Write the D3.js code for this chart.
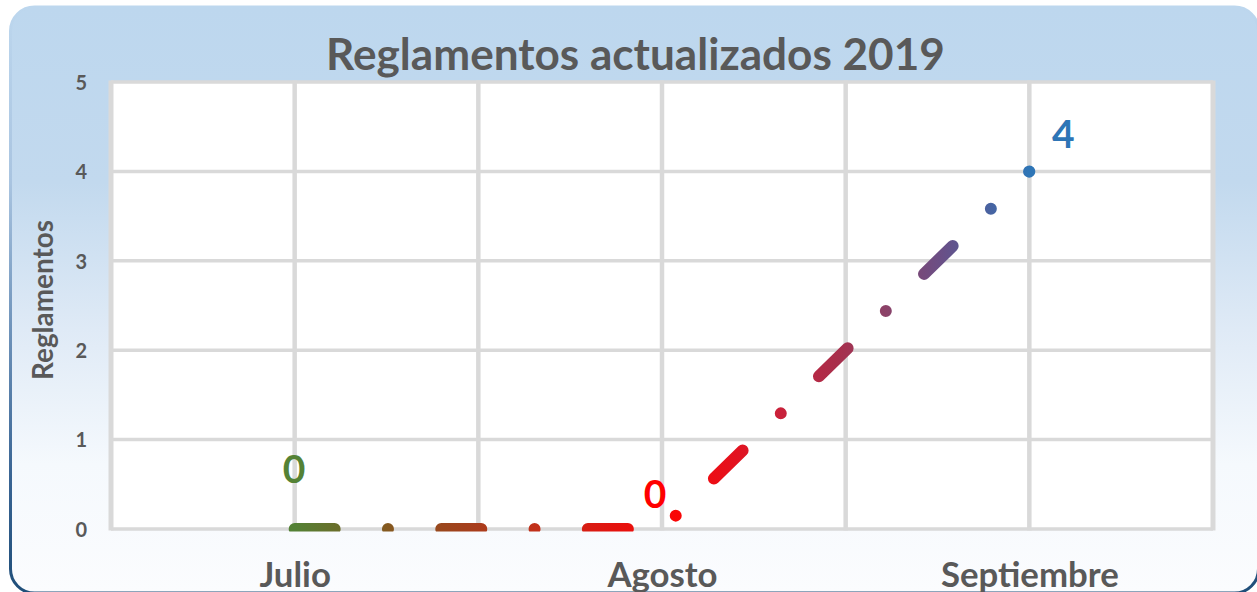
<!DOCTYPE html>
<html><head><meta charset="utf-8">
<script src="https://cdn.jsdelivr.net/npm/d3@7"></script>
<style>html,body{margin:0;padding:0;background:#fff;overflow:hidden;} svg{display:block;}</style>
</head><body>
<svg id="chart" width="1257" height="592"></svg>
<script>
// ---- data ----
const chartTitle = "Reglamentos actualizados 2019";
const yAxisTitle = "Reglamentos";
const categories = ["Julio", "Agosto", "Septiembre"];
const values = [0, 0, 4];
const dataLabels = ["0", "0", "4"];
const yTicks = [0, 1, 2, 3, 4, 5];

// ---- layout ----
const W = 1257, H = 592;
const plot = {left: 111, right: 1213, top: 82, bottom: 529};
const FONT = "Lato, 'Open Sans', sans-serif";
const TXT = "#595959";

const svg = d3.select("#chart");
const defs = svg.append("defs");

// x: linear over half-category slots, categories at odd slots
const nSlots = categories.length * 2;
const x = d3.scaleLinear().domain([0, nSlots]).range([plot.left, plot.right]);
const catX = i => x(2 * i + 1);
const y = d3.scaleLinear().domain([0, d3.max(yTicks)]).range([plot.bottom, plot.top]);

// ---- background ----
const bgGrad = defs.append("linearGradient").attr("id", "bgGrad")
  .attr("x1", 0).attr("y1", 0).attr("x2", 0).attr("y2", 1);
[[0, "#bdd7ee"], [0.3, "#c2d9ee"], [0.55, "#dfeaf6"], [0.78, "#f5f9fd"], [1, "#fbfcfe"]]
  .forEach(([o, c]) => bgGrad.append("stop").attr("offset", o).attr("stop-color", c));
const bdGrad = defs.append("linearGradient").attr("id", "bdGrad")
  .attr("x1", 0).attr("y1", 0).attr("x2", 0).attr("y2", 1);
[[0, "#bdd7ee"], [0.3, "#a9c4e0"], [0.55, "#6f93ba"], [0.8, "#3a6594"], [1, "#1f4e79"]]
  .forEach(([o, c]) => bdGrad.append("stop").attr("offset", o).attr("stop-color", c));

svg.append("rect").attr("x", 10.5).attr("y", 7).attr("width", 1248).attr("height", 586)
  .attr("rx", 24).attr("ry", 24)
  .attr("fill", "url(#bgGrad)").attr("stroke", "url(#bdGrad)").attr("stroke-width", 3);

// ---- plot area ----
svg.append("rect").attr("x", plot.left).attr("y", plot.top)
  .attr("width", plot.right - plot.left).attr("height", plot.bottom - plot.top)
  .attr("fill", "#ffffff");

const grid = svg.append("g").attr("stroke", "#d9d9d9").attr("fill", "none");
grid.selectAll("line.h").data(yTicks).join("line").attr("class", "h")
  .attr("x1", plot.left).attr("x2", plot.right)
  .attr("y1", d => y(d)).attr("y2", d => y(d))
  .attr("stroke-width", 3.5);
grid.selectAll("line.v").data(d3.range(0, nSlots + 1)).join("line").attr("class", "v")
  .attr("y1", plot.top - 1.5).attr("y2", plot.bottom + 1.5)
  .attr("x1", d => x(d)).attr("x2", d => x(d))
  .attr("stroke-width", d => (d === 0 || d === nSlots) ? 5 : 4.5);

// ---- line ----
const lg = defs.append("linearGradient").attr("id", "lineGrad")
  .attr("gradientUnits", "userSpaceOnUse")
  .attr("x1", catX(0)).attr("y1", 0).attr("x2", catX(categories.length - 1)).attr("y2", 0);
[[0, "#538135"], [0.13, "#86581f"], [0.23, "#a3401c"], [0.33, "#c2301a"], [0.43, "#e2140f"],
 [0.52, "#fa0606"], [0.6, "#e3121f"], [0.66, "#c9213a"], [0.74, "#a82f4c"], [0.8, "#8d4166"],
 [0.88, "#6a4f86"], [0.94, "#4b619f"], [1, "#2e75b6"]]
  .forEach(([o, c]) => lg.append("stop").attr("offset", o).attr("stop-color", c));

defs.append("clipPath").attr("id", "plotClip").append("rect")
  .attr("x", plot.left).attr("y", plot.top - 10)
  .attr("width", plot.right - plot.left).attr("height", plot.bottom - plot.top + 12.5);

const line = d3.line().x((d, i) => catX(i)).y(d => y(d));
svg.append("path").datum(values)
  .attr("d", line)
  .attr("clip-path", "url(#plotClip)")
  .attr("fill", "none")
  .attr("stroke", "url(#lineGrad)")
  .attr("stroke-width", 12)
  .attr("stroke-linecap", "round")
  .attr("stroke-linejoin", "round")
  .attr("stroke-dasharray", "40 53.3 0 53.3");

// ---- data labels ----
const labelStyle = [
  {dx: -0.5, dy: -46, color: "#548235"},
  {dx: -7, dy: -21, color: "#ff0000"},
  {dx: 34, dy: -23, color: "#2e75b6"}
];
svg.append("g").selectAll("text").data(values).join("text")
  .attr("x", (d, i) => catX(i) + labelStyle[i].dx)
  .attr("y", (d, i) => y(d) + labelStyle[i].dy)
  .attr("text-anchor", "middle")
  .attr("font-family", FONT).attr("font-weight", 700).attr("font-size", 39)
  .attr("fill", (d, i) => labelStyle[i].color)
  .text((d, i) => dataLabels[i]);

// ---- helpers ----
function fitSize(sel, target) {
  const w = sel.node().getComputedTextLength();
  const s = parseFloat(sel.attr("font-size"));
  return s * target / w;
}

// ---- y axis ----
const yAxis = svg.append("g").attr("transform", `translate(${plot.left},0)`)
  .call(d3.axisLeft(y).tickValues(yTicks).tickSize(0).tickPadding(24).tickFormat(d3.format("d")));
yAxis.select(".domain").remove();
yAxis.selectAll("text").attr("font-family", FONT).attr("font-weight", 700)
  .attr("font-size", 20).attr("fill", TXT).attr("dy", "0.36em");

// ---- x axis ----
const xAxis = svg.append("g").attr("transform", `translate(0,${plot.bottom})`)
  .call(d3.axisBottom(x).tickValues(categories.map((c, i) => 2 * i + 1)).tickSize(0)
    .tickFormat(d => categories[(d - 1) / 2]));
xAxis.select(".domain").remove();
const xt = xAxis.selectAll("text").attr("font-family", FONT).attr("font-weight", 700)
  .attr("font-size", 32).attr("fill", TXT).attr("dy", 0);
const widest = xt.filter(d => categories[(d - 1) / 2] === "Septiembre");
const xs = fitSize(widest, 178);
xt.attr("font-size", xs).attr("y", 562 - plot.bottom + 0.72 * xs);

// ---- y title ----
const yt = svg.append("text")
  .attr("transform", "translate(53,300) rotate(-90)")
  .attr("text-anchor", "middle")
  .attr("font-family", FONT).attr("font-weight", 700).attr("font-size", 18)
  .attr("fill", TXT).text(yAxisTitle);
yt.attr("font-size", fitSize(yt, 160));

// ---- title ----
const tt = svg.append("text")
  .attr("x", 635.5).attr("y", 70)
  .attr("text-anchor", "middle")
  .attr("font-family", FONT).attr("font-weight", 700).attr("font-size", 36)
  .attr("fill", TXT).text(chartTitle);
tt.attr("font-size", fitSize(tt, 619));
</script>
</body></html>
